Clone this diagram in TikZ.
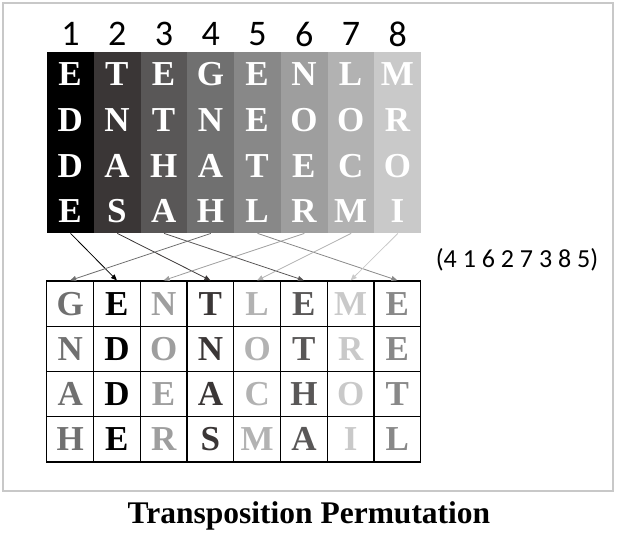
\documentclass[tikz,border=0pt]{standalone}
\usepackage{fontspec}
\setmainfont{Liberation Serif}
\newfontfamily\numfont{Carlito}
\usetikzlibrary{arrows.meta}

\definecolor{g1}{HTML}{000000}
\definecolor{g2}{HTML}{3A3636}
\definecolor{g3}{HTML}{595757}
\definecolor{g4}{HTML}{707070}
\definecolor{g5}{HTML}{888888}
\definecolor{g6}{HTML}{9E9E9E}
\definecolor{g7}{HTML}{B2B2B2}
\definecolor{g8}{HTML}{C9C9C9}
\definecolor{framegray}{HTML}{C8C8C8}

\tikzset{
  colbox/.style={fill=#1, minimum width=46.75pt, minimum height=181pt, inner sep=0pt, anchor=north west},
  toplet/.style={text=white, font=\bfseries\fontsize{35}{35}\selectfont, inner sep=0pt},
  cell/.style={draw, line width=1.2pt, minimum width=46.75pt, minimum height=45.25pt, inner sep=0pt,
    font=\bfseries\fontsize{35}{35}\selectfont},
  colnum/.style={font=\numfont\fontsize{36}{36}\selectfont, inner sep=0pt},
  perm/.style={-{Triangle[length=6pt,width=5pt]}, line width=0.8pt}
}

\begin{document}
\begin{tikzpicture}[x=1pt,y=-1pt]
  \useasboundingbox (0,0) rectangle (618,536);
  \draw[framegray, line width=1.5pt] (3,3) rectangle (613,491);

  % columns of the key
  \foreach \i/\a/\b/\c/\d in {1/E/D/D/E, 2/T/N/A/S, 3/E/T/H/A, 4/G/N/A/H,
                              5/E/E/T/L, 6/N/O/E/R, 7/L/O/C/M, 8/M/R/O/I} {
    \node[colbox=g\i] (c\i) at ({47+46.75*(\i-1)},52) {};
    \node[colnum] (n\i) at (c\i.north) [yshift=18pt] {\i};
    \node[toplet] (t\i-1) at ({23.4+46.75*\i},74) {\a};
    \node[toplet] (t\i-2) at ({23.4+46.75*\i},120) {\b};
    \node[toplet] (t\i-3) at ({23.4+46.75*\i},166) {\c};
    \node[toplet] (t\i-4) at ({23.4+46.75*\i},211) {\d};
  }

  % permuted grid
  \foreach \j/\i/\a/\b/\c/\d in {1/4/G/N/A/H, 2/1/E/D/D/E, 3/6/N/O/E/R, 4/2/T/N/A/S,
                                 5/7/L/O/C/M, 6/3/E/T/H/A, 7/8/M/R/O/I, 8/5/E/E/T/L} {
    \node[cell, text=g\i] (b\j-1) at ({23.4+46.75*\j},303.6) {\a};
    \node[cell, text=g\i] (b\j-2) at ({23.4+46.75*\j},348.9) {\b};
    \node[cell, text=g\i] (b\j-3) at ({23.4+46.75*\j},394.1) {\c};
    \node[cell, text=g\i] (b\j-4) at ({23.4+46.75*\j},439.4) {\d};
  }

  \foreach \i/\j in {1/2, 2/4, 3/6, 4/1, 5/8, 6/3, 7/5, 8/7}
    \draw[perm, g\i] (c\i.south) -- (b\j-1.north);

  \node[font=\numfont\fontsize{26}{26}\selectfont, inner sep=0pt] (key) at (517,260) {(4 1 6 2 7 3 8 5)};
  \node[font=\bfseries\fontsize{31.5}{31.5}\selectfont, inner sep=0pt, anchor=base] (title) at (309,523) {Transposition Permutation};
\end{tikzpicture}
\end{document}
